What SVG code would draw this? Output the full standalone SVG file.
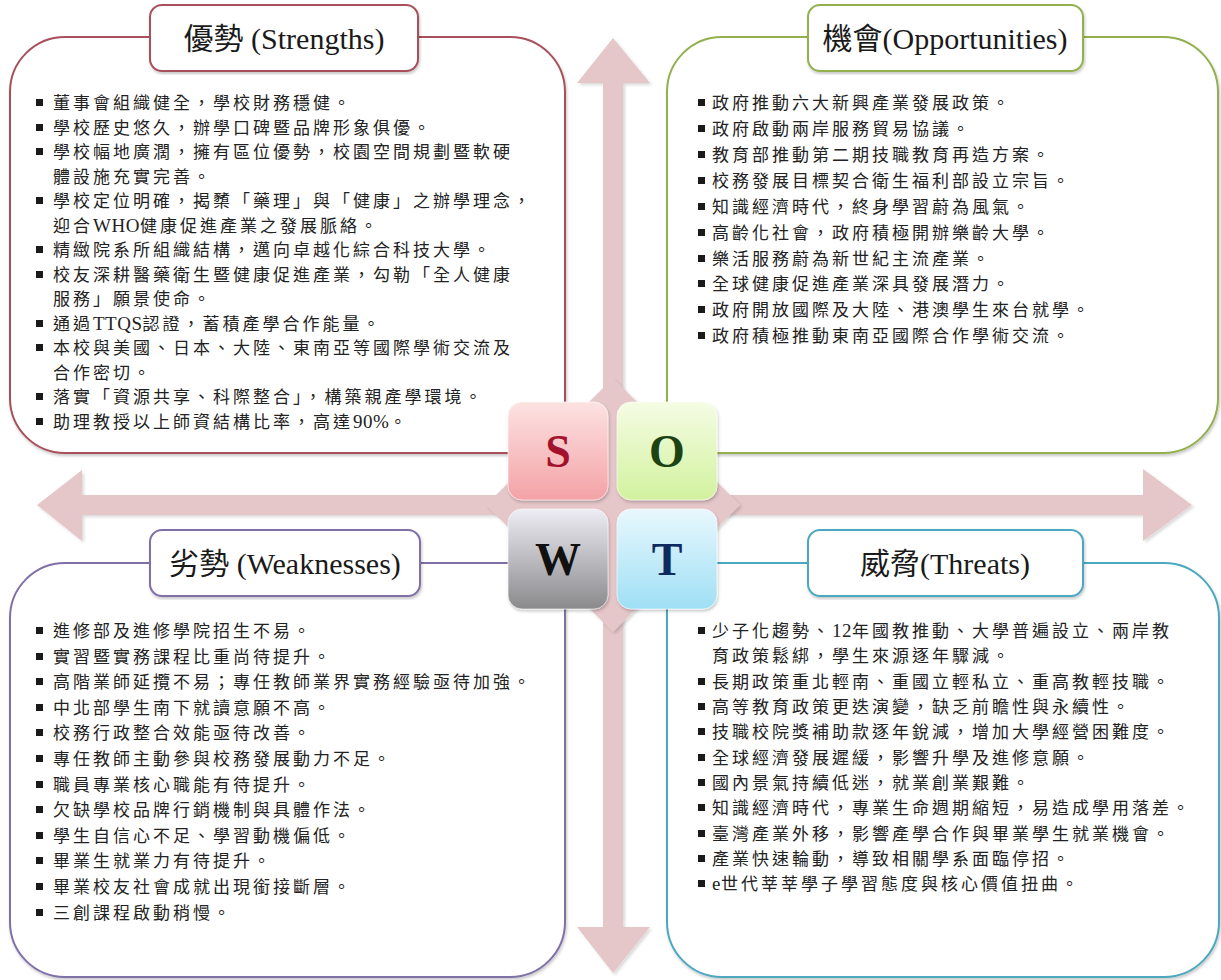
<svg xmlns="http://www.w3.org/2000/svg" width="1221" height="980" viewBox="0 0 1221 980">
<defs>
<filter id="sh" x="-5%" y="-5%" width="110%" height="110%">
<feDropShadow dx="1" dy="2" stdDeviation="1.5" flood-color="#000" flood-opacity="0.22"/>
</filter>
<filter id="ash" x="-5%" y="-5%" width="110%" height="110%">
<feDropShadow dx="2" dy="2" stdDeviation="1.5" flood-color="#000" flood-opacity="0.15"/>
</filter>
<linearGradient id="gS" x1="0" y1="0" x2="0" y2="1"><stop offset="0" stop-color="#fde2e2"/><stop offset="1" stop-color="#f4a2a6"/></linearGradient>
<linearGradient id="gO" x1="0" y1="0" x2="0" y2="1"><stop offset="0" stop-color="#f5fce4"/><stop offset="1" stop-color="#d2f29e"/></linearGradient>
<linearGradient id="gW" x1="0" y1="0" x2="0" y2="1"><stop offset="0" stop-color="#eeecf4"/><stop offset="1" stop-color="#8a8a8c"/></linearGradient>
<linearGradient id="gT" x1="0" y1="0" x2="0" y2="1"><stop offset="0" stop-color="#e8f8fd"/><stop offset="1" stop-color="#9fdff5"/></linearGradient>
</defs>
<style>
.box{fill:#fff;stroke-width:2;filter:url(#sh)}
.hd{fill:#fff;stroke-width:2;filter:url(#sh)}
.ht{font-family:"Liberation Serif","Noto Sans CJK TC",serif;font-size:30px;fill:#1a1a1a;text-anchor:middle}
.t{font-family:"Liberation Serif","Noto Sans CJK TC",serif;font-size:17px;letter-spacing:3px;fill:#222}
.l{font-size:19px;letter-spacing:0.5px}
.b{fill:#1a1a1a}
.arr{fill:#e5c6c9;filter:url(#ash)}
.tile{stroke:#ffffff;stroke-opacity:0.6;stroke-width:1;filter:url(#sh)}
.lt{font-family:"Liberation Serif",serif;font-weight:bold;font-size:46px;text-anchor:middle}
</style>
<rect width="1221" height="980" fill="#fff"/>

<g id="connectors">
<polygon class="arr" points="613,38 650,83 623,83 623,927 650,927 613,973 577,927 603,927 603,83 577,83"/>
<polygon class="arr" points="37,505 82,470 82,495 1143,495 1143,469 1192,505 1143,541 1143,515 82,515 82,541"/>
<polygon class="arr" points="613,378 740,505 613,632 486,505"/>
</g>

<g id="strengths">
<path class="box" stroke="#a8505c" d="M65,37 H510 A55,55 0 0 1 565,92 V453 H65 A55,55 0 0 1 10,398 V92 A55,55 0 0 1 65,37 Z"/>
<rect class="hd" stroke="#a8505c" x="150" y="5" width="268" height="66" rx="12"/>
<text class="ht" x="284" y="49">優勢 (Strengths)</text>
<g class="b">
<rect x="36" y="99" width="7" height="7"/><rect x="36" y="124" width="7" height="7"/><rect x="36" y="148" width="7" height="7"/><rect x="36" y="197" width="7" height="7"/><rect x="36" y="246" width="7" height="7"/><rect x="36" y="271" width="7" height="7"/><rect x="36" y="320" width="7" height="7"/><rect x="36" y="344" width="7" height="7"/><rect x="36" y="393" width="7" height="7"/><rect x="36" y="418" width="7" height="7"/>
</g>
<text class="t" x="53" y="109">董事會組織健全，學校財務穩健。</text>
<text class="t" x="53" y="134">學校歷史悠久，辦學口碑暨品牌形象俱優。</text>
<text class="t" x="53" y="158">學校幅地廣濶，擁有區位優勢，校園空間規劃暨軟硬</text>
<text class="t" x="53" y="183">體設施充實完善。</text>
<text class="t" x="53" y="207">學校定位明確，揭櫫「藥理」與「健康」之辦學理念，</text>
<text class="t" x="53" y="232">迎合<tspan class="l">WHO</tspan>健康促進產業之發展脈絡。</text>
<text class="t" x="53" y="256">精緻院系所組織結構，邁向卓越化綜合科技大學。</text>
<text class="t" x="53" y="281">校友深耕醫藥衛生暨健康促進產業，勾勒「全人健康</text>
<text class="t" x="53" y="305">服務」願景使命。</text>
<text class="t" x="53" y="330">通過<tspan class="l">TTQS</tspan>認證，蓄積產學合作能量。</text>
<text class="t" x="53" y="354">本校與美國、日本、大陸、東南亞等國際學術交流及</text>
<text class="t" x="53" y="379">合作密切。</text>
<text class="t" x="53" y="403">落實「資源共享、科際整合」，構築親產學環境。</text>
<text class="t" x="53" y="428">助理教授以上師資結構比率，高達<tspan class="l">90%</tspan>。</text>
</g>

<g id="opportunities">
<path class="box" stroke="#93b050" d="M722,37 H1163 A55,55 0 0 1 1218,92 V398 A55,55 0 0 1 1163,453 H667 V92 A55,55 0 0 1 722,37 Z"/>
<rect class="hd" stroke="#93b050" x="808" y="5" width="275" height="66" rx="12"/>
<text class="ht" x="945" y="49">機會(Opportunities)</text>
<g class="b">
<rect x="698" y="99" width="7" height="7"/><rect x="698" y="125" width="7" height="7"/><rect x="698" y="151" width="7" height="7"/><rect x="698" y="177" width="7" height="7"/><rect x="698" y="203" width="7" height="7"/><rect x="698" y="229" width="7" height="7"/><rect x="698" y="255" width="7" height="7"/><rect x="698" y="280" width="7" height="7"/><rect x="698" y="306" width="7" height="7"/><rect x="698" y="332" width="7" height="7"/>
</g>
<text class="t" x="712" y="109">政府推動六大新興產業發展政策。</text>
<text class="t" x="712" y="135">政府啟動兩岸服務貿易協議。</text>
<text class="t" x="712" y="161">教育部推動第二期技職教育再造方案。</text>
<text class="t" x="712" y="187">校務發展目標契合衛生福利部設立宗旨。</text>
<text class="t" x="712" y="213">知識經濟時代，終身學習蔚為風氣。</text>
<text class="t" x="712" y="239">高齡化社會，政府積極開辦樂齡大學。</text>
<text class="t" x="712" y="265">樂活服務蔚為新世紀主流產業。</text>
<text class="t" x="712" y="290">全球健康促進產業深具發展潛力。</text>
<text class="t" x="712" y="316">政府開放國際及大陸、港澳學生來台就學。</text>
<text class="t" x="712" y="342">政府積極推動東南亞國際合作學術交流。</text>
</g>

<g id="weaknesses">
<path class="box" stroke="#8070a8" d="M65,563 H565 V922 A55,55 0 0 1 510,977 H65 A55,55 0 0 1 10,922 V618 A55,55 0 0 1 65,563 Z"/>
<rect class="hd" stroke="#8070a8" x="150" y="530" width="270" height="66" rx="12"/>
<text class="ht" x="285" y="574">劣勢 (Weaknesses)</text>
<g class="b">
<rect x="36" y="627" width="7" height="7"/><rect x="36" y="653" width="7" height="7"/><rect x="36" y="678" width="7" height="7"/><rect x="36" y="704" width="7" height="7"/><rect x="36" y="729" width="7" height="7"/><rect x="36" y="755" width="7" height="7"/><rect x="36" y="781" width="7" height="7"/><rect x="36" y="806" width="7" height="7"/><rect x="36" y="832" width="7" height="7"/><rect x="36" y="857" width="7" height="7"/><rect x="36" y="883" width="7" height="7"/><rect x="36" y="909" width="7" height="7"/>
</g>
<text class="t" x="53" y="637">進修部及進修學院招生不易。</text>
<text class="t" x="53" y="663">實習暨實務課程比重尚待提升。</text>
<text class="t" x="53" y="688">高階業師延攬不易；專任教師業界實務經驗亟待加強。</text>
<text class="t" x="53" y="714">中北部學生南下就讀意願不高。</text>
<text class="t" x="53" y="739">校務行政整合效能亟待改善。</text>
<text class="t" x="53" y="765">專任教師主動參與校務發展動力不足。</text>
<text class="t" x="53" y="791">職員專業核心職能有待提升。</text>
<text class="t" x="53" y="816">欠缺學校品牌行銷機制與具體作法。</text>
<text class="t" x="53" y="842">學生自信心不足、學習動機偏低。</text>
<text class="t" x="53" y="867">畢業生就業力有待提升。</text>
<text class="t" x="53" y="893">畢業校友社會成就出現銜接斷層。</text>
<text class="t" x="53" y="919">三創課程啟動稍慢。</text>
</g>

<g id="threats">
<path class="box" stroke="#4ba8c0" d="M667,563 H1164 A55,55 0 0 1 1219,618 V922 A55,55 0 0 1 1164,977 H722 A55,55 0 0 1 667,922 Z"/>
<rect class="hd" stroke="#4ba8c0" x="808" y="530" width="275" height="66" rx="12"/>
<text class="ht" x="945" y="574">威脅(Threats)</text>
<g class="b">
<rect x="698" y="627" width="7" height="7"/><rect x="698" y="678" width="7" height="7"/><rect x="698" y="703" width="7" height="7"/><rect x="698" y="728" width="7" height="7"/><rect x="698" y="754" width="7" height="7"/><rect x="698" y="779" width="7" height="7"/><rect x="698" y="804" width="7" height="7"/><rect x="698" y="830" width="7" height="7"/><rect x="698" y="855" width="7" height="7"/><rect x="698" y="880" width="7" height="7"/>
</g>
<text class="t" x="712" y="637">少子化趨勢、<tspan class="l">12</tspan>年國教推動、大學普遍設立、兩岸教</text>
<text class="t" x="712" y="662">育政策鬆綁，學生來源逐年驟減。</text>
<text class="t" x="712" y="688">長期政策重北輕南、重國立輕私立、重高教輕技職。</text>
<text class="t" x="712" y="713">高等教育政策更迭演變，缺乏前瞻性與永續性。</text>
<text class="t" x="712" y="738">技職校院獎補助款逐年銳減，增加大學經營困難度。</text>
<text class="t" x="712" y="764">全球經濟發展遲緩，影響升學及進修意願。</text>
<text class="t" x="712" y="789">國內景氣持續低迷，就業創業艱難。</text>
<text class="t" x="712" y="814">知識經濟時代，專業生命週期縮短，易造成學用落差。</text>
<text class="t" x="712" y="840">臺灣產業外移，影響產學合作與畢業學生就業機會。</text>
<text class="t" x="712" y="865">產業快速輪動，導致相關學系面臨停招。</text>
<text class="t" x="712" y="890"><tspan class="l">e</tspan>世代莘莘學子學習態度與核心價值扭曲。</text>
</g>

<g id="tile-s"><rect class="tile" x="508" y="402" width="100" height="98" rx="14" fill="url(#gS)"/><text class="lt" x="558" y="467" fill="#a3122c">S</text></g>
<g id="tile-o"><rect class="tile" x="617" y="402" width="100" height="98" rx="14" fill="url(#gO)"/><text class="lt" x="667" y="467" fill="#1d4314">O</text></g>
<g id="tile-w"><rect class="tile" x="508" y="509" width="100" height="100" rx="14" fill="url(#gW)"/><text class="lt" x="558" y="575" fill="#111">W</text></g>
<g id="tile-t"><rect class="tile" x="617" y="509" width="100" height="100" rx="14" fill="url(#gT)"/><text class="lt" x="667" y="575" fill="#0d2b5e">T</text></g>
</svg>
